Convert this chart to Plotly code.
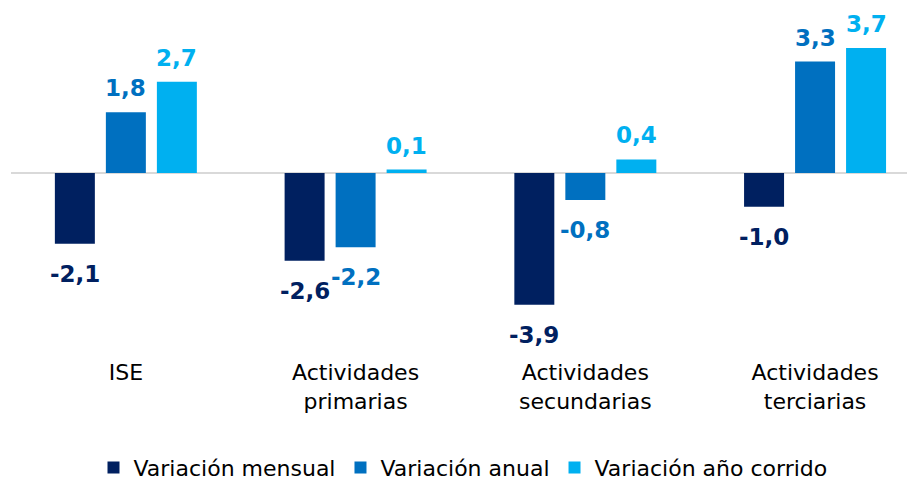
import plotly.graph_objects as go

categorias = ["ISE", "Actividades<br>primarias", "Actividades<br>secundarias", "Actividades<br>terciarias"]
series = ["Variación mensual", "Variación anual", "Variación año corrido"]
mensual = [-2.1, -2.6, -3.9, -1.0]
anual = [1.8, -2.2, -0.8, 3.3]
corrido = [2.7, 0.1, 0.4, 3.7]

colores = ["#002060", "#0070C0", "#00B0F0"]
valores = [mensual, anual, corrido]

FONT = "DejaVu Sans"
BARGAP = 0.334
GROUPGAP = 0.216

fig = go.Figure()
for nombre, vals, col in zip(series, valores, colores):
    fig.add_trace(go.Bar(
        x=categorias, y=vals, name=nombre,
        marker=dict(color=col, line=dict(width=0)),
    ))

# etiquetas de datos (como en Excel, separadas de la barra)
slot = (1 - BARGAP) / len(series)
annots = []
for j, (vals, col) in enumerate(zip(valores, colores)):
    for i, v in enumerate(vals):
        annots.append(dict(
            x=i + (j - 1) * slot, y=v, xref="x", yref="y",
            text="<b>" + f"{v:.1f}".replace(".", ",") + "</b>",
            showarrow=False, yanchor="middle",
            yshift=24 if v >= 0 else -30,
            font=dict(family=FONT, size=23, color=col),
        ))

# la página tiene 8px de margen en el body: se compensa con el tamaño
fig.update_layout(
    width=907, height=475,
    barmode="group", bargap=BARGAP, bargroupgap=GROUPGAP,
    plot_bgcolor="white", paper_bgcolor="white",
    margin=dict(l=3, r=0, t=13, b=126),
    font=dict(family=FONT, size=22, color="#000000"),
    annotations=annots,
    showlegend=True,
    legend=dict(
        orientation="h", x=0.5, xanchor="center",
        yref="container", y=0.032, yanchor="middle",
        font=dict(family=FONT, size=22, color="#000000"),
        traceorder="normal",
    ),
    xaxis=dict(
        range=[-0.5, 3.435], showgrid=False, showline=False,
        ticks="", tickfont=dict(family=FONT, size=22, color="#000000"),
    ),
    yaxis=dict(
        range=[-5.45, 4.5], showgrid=False, showticklabels=False,
        zeroline=True, zerolinecolor="#D9D9D9", zerolinewidth=2,
    ),
)

fig.write_html("out.html")
